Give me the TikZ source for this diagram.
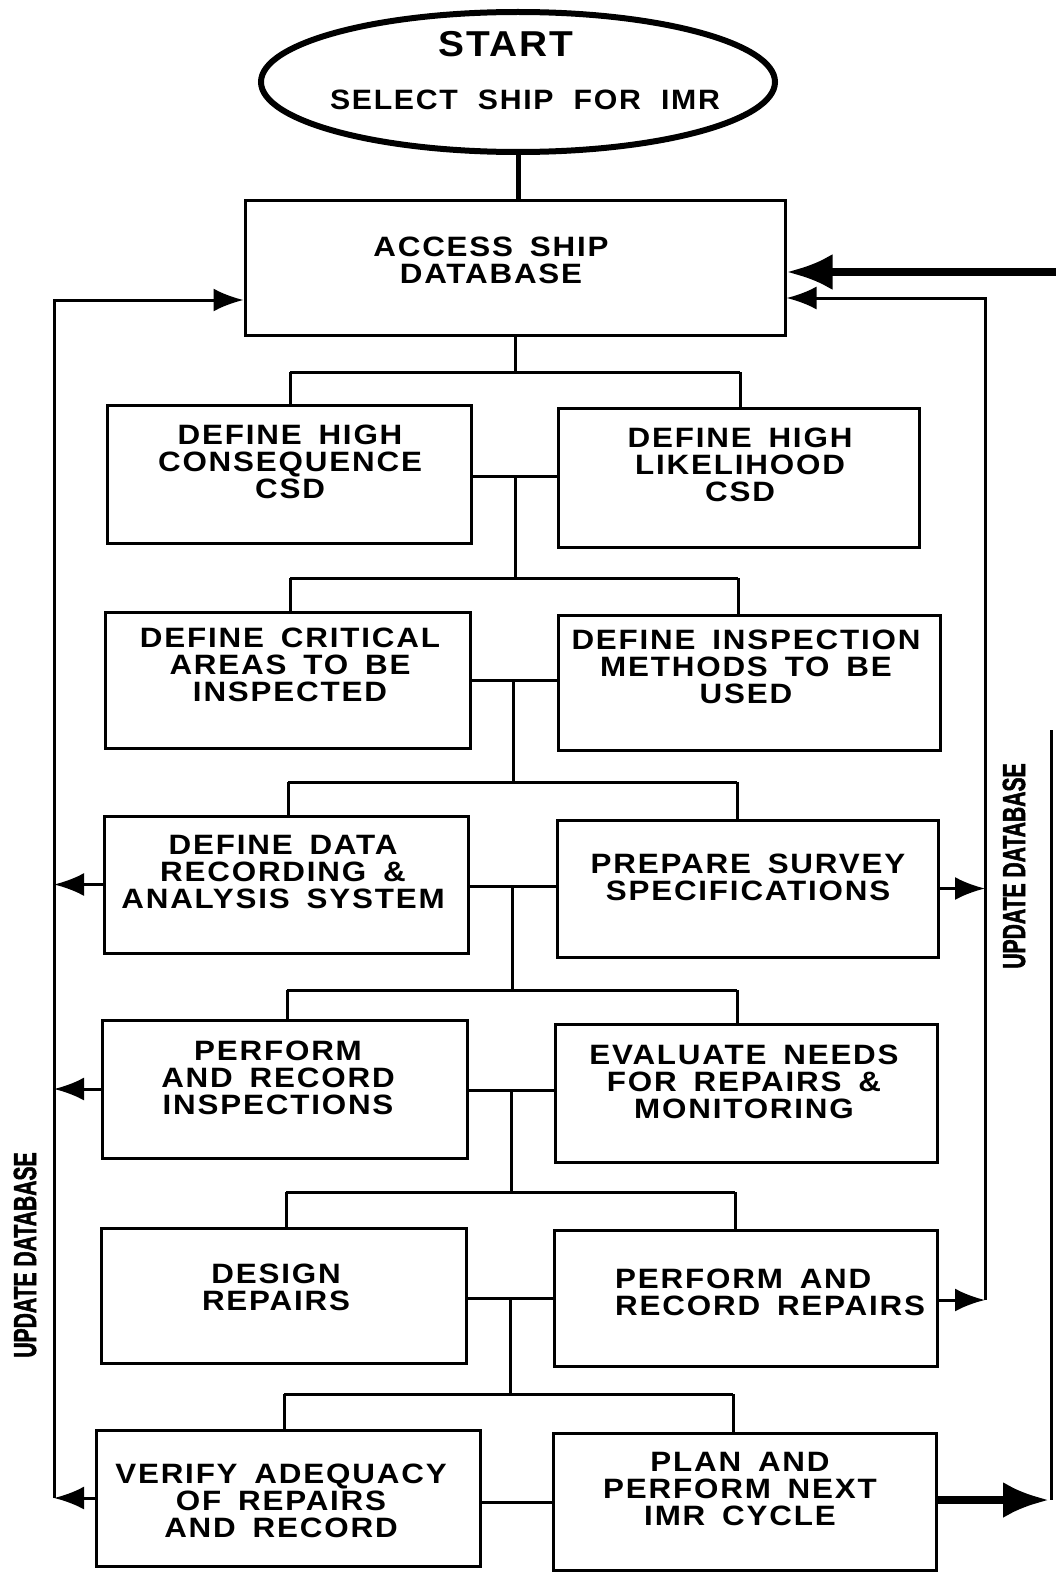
\documentclass[tikz,border=0pt]{standalone}
\usepackage{fontspec}
\usetikzlibrary{arrows.meta,shapes.geometric}
\newfontfamily\boxfont{Liberation Sans}[FakeStretch=1.12,LetterSpace=6.5,WordSpace=1.6]
\newfontfamily\ellfont{Liberation Sans}[FakeStretch=1.08,LetterSpace=6,WordSpace=2]
\newfontfamily\updfont{Liberation Sans}[FakeStretch=0.66,FakeBold=1.5]
\begin{document}
\begin{tikzpicture}[x=1pt,y=-1pt,
  bx/.style={draw, line width=3pt, inner sep=0pt, rectangle},
  ln/.style={line width=3pt},
  thk/.style={line width=8pt},
  tip/.style={-{Latex[length=30pt,width=23pt]}},
  bigtip/.style={-{Latex[length=46pt,width=36pt]}},
  txt/.style={inner sep=0pt, align=center, anchor=north, font=\boxfont\bfseries\fontsize{28}{27}\selectfont},
  etxt/.style={inner sep=0pt, anchor=base, font=\ellfont\bfseries},
  upd/.style={inner sep=0pt, rotate=90, font=\updfont\bfseries\fontsize{32}{32}\selectfont}]
\useasboundingbox (0,0) rectangle (1055,1576);
\fill[white] (0,0) rectangle (1055,1576);

% start ellipse
\node[draw, ellipse, line width=6pt, inner sep=0pt, minimum width=514pt, minimum height=140pt] (st) at (518,82) {};
\node[etxt, font=\ellfont\bfseries\fontsize{36}{36}\selectfont] (tstart) at (506,57) {START};
\node[etxt, font=\ellfont\bfseries\fontsize{28}{28}\selectfont] (tsel) at (525,110) {SELECT SHIP FOR IMR};

% boxes
\node[bx, minimum width=540pt, minimum height=135pt] (acc) at (515,267.5) {};
\node[bx, minimum width=364pt, minimum height=138pt] (b1L) at (289,474) {};
\node[bx, minimum width=361pt, minimum height=139pt] (b1R) at (738.5,477.5) {};
\node[bx, minimum width=365pt, minimum height=136pt] (b2L) at (287.5,680) {};
\node[bx, minimum width=382pt, minimum height=135pt] (b2R) at (749,682.5) {};
\node[bx, minimum width=364pt, minimum height=137pt] (b3L) at (286,884.5) {};
\node[bx, minimum width=381pt, minimum height=137pt] (b3R) at (747.5,888.5) {};
\node[bx, minimum width=365pt, minimum height=138pt] (b4L) at (284.5,1089) {};
\node[bx, minimum width=382pt, minimum height=138pt] (b4R) at (746,1093) {};
\node[bx, minimum width=365pt, minimum height=135pt] (b5L) at (283.5,1295.5) {};
\node[bx, minimum width=383pt, minimum height=136pt] (b5R) at (745.5,1298) {};
\node[bx, minimum width=384pt, minimum height=136pt] (b6L) at (288,1498) {};
\node[bx, minimum width=383pt, minimum height=137pt] (b6R) at (744.5,1501.5) {};

% texts
\node[txt] (tacc) at (491,237) {ACCESS SHIP\\DATABASE};
\node[txt] (t1L) at (290,425) {DEFINE HIGH\\CONSEQUENCE\\CSD};
\node[txt] (t1R) at (740,428) {DEFINE HIGH\\LIKELIHOOD\\CSD};
\node[txt] (t2L) at (290,628) {DEFINE CRITICAL\\AREAS TO BE\\INSPECTED};
\node[txt] (t2R) at (746,630) {DEFINE INSPECTION\\METHODS TO BE\\USED};
\node[txt] (t3L) at (283,835) {DEFINE DATA\\RECORDING \&\\ANALYSIS SYSTEM};
\node[txt] (t3R) at (748,854) {PREPARE SURVEY\\SPECIFICATIONS};
\node[txt] (t4L) at (278,1041) {PERFORM\\AND RECORD\\INSPECTIONS};
\node[txt] (t4R) at (744,1045) {EVALUATE NEEDS\\FOR REPAIRS \&\\MONITORING};
\node[txt] (t5L) at (276,1264) {DESIGN\\REPAIRS};
\node[txt, align=left, anchor=north west] (t5R) at (615,1269) {PERFORM AND\\RECORD REPAIRS};
\node[txt] (t6L) at (281,1464) {VERIFY ADEQUACY\\OF REPAIRS\\AND RECORD};
\node[txt] (t6R) at (740,1452) {PLAN AND\\PERFORM NEXT\\IMR CYCLE};

% side labels
\node[upd] (uL) at (25,1255) {UPDATE DATABASE};
\node[upd] (uR) at (1014,866) {UPDATE DATABASE};

% start to access
\draw[line width=5pt] (st.south) -- (st.south |- acc.north);

% tree connectors
\coordinate (h0) at (515,372); \coordinate (h0L) at (290,372); \coordinate (h0R) at (740,372);
\draw[ln] (acc.south) -- (h0);
\draw[ln] (h0L) -- (h0R);
\draw[ln] (h0L) -- (h0L |- b1L.north);
\draw[ln] (h0R) -- (h0R |- b1R.north);

\coordinate (m1) at (515,476); \coordinate (h1) at (515,578);
\coordinate (h1L) at (290,578); \coordinate (h1R) at (738,578);
\draw[ln] (b1L.east |- m1) -- (b1R.west |- m1);
\draw[ln] (m1) -- (h1);
\draw[ln] (h1L) -- (h1R);
\draw[ln] (h1L) -- (h1L |- b2L.north);
\draw[ln] (h1R) -- (h1R |- b2R.north);

\coordinate (m2) at (513,680); \coordinate (h2) at (513,782);
\coordinate (h2L) at (288,782); \coordinate (h2R) at (737,782);
\draw[ln] (b2L.east |- m2) -- (b2R.west |- m2);
\draw[ln] (m2) -- (h2);
\draw[ln] (h2L) -- (h2R);
\draw[ln] (h2L) -- (h2L |- b3L.north);
\draw[ln] (h2R) -- (h2R |- b3R.north);

\coordinate (m3) at (512,886); \coordinate (h3) at (512,990);
\coordinate (h3L) at (287,990); \coordinate (h3R) at (737,990);
\draw[ln] (b3L.east |- m3) -- (b3R.west |- m3);
\draw[ln] (m3) -- (h3);
\draw[ln] (h3L) -- (h3R);
\draw[ln] (h3L) -- (h3L |- b4L.north);
\draw[ln] (h3R) -- (h3R |- b4R.north);

\coordinate (m4) at (511,1090); \coordinate (h4) at (511,1192);
\coordinate (h4L) at (286,1192); \coordinate (h4R) at (735,1192);
\draw[ln] (b4L.east |- m4) -- (b4R.west |- m4);
\draw[ln] (m4) -- (h4);
\draw[ln] (h4L) -- (h4R);
\draw[ln] (h4L) -- (h4L |- b5L.north);
\draw[ln] (h4R) -- (h4R |- b5R.north);

\coordinate (m5) at (510,1298); \coordinate (h5) at (510,1394);
\coordinate (h5L) at (284,1394); \coordinate (h5R) at (733,1394);
\draw[ln] (b5L.east |- m5) -- (b5R.west |- m5);
\draw[ln] (m5) -- (h5);
\draw[ln] (h5L) -- (h5R);
\draw[ln] (h5L) -- (h5L |- b6L.north);
\draw[ln] (h5R) -- (h5R |- b6R.north);

\coordinate (m6) at (510,1502);
\draw[ln] (b6L.east |- m6) -- (b6R.west |- m6);

% left update line
\coordinate (Ltop) at (54,300); \coordinate (Lbot) at (54,1498);
\draw[ln, tip] (Lbot) -- (Ltop) -- (Ltop -| acc.west);
\draw[ln, tip] (b3L.west) -- (b3L.west -| Ltop);
\draw[ln, tip] (b4L.west) -- (b4L.west -| Ltop);
\draw[ln, tip] (b6L.west) -- (b6L.west -| Ltop);

% right update line
\coordinate (Rtop) at (985,298); \coordinate (Rbot) at (985,1300);
\draw[ln, tip] (Rbot) -- (Rtop) -- (Rtop -| acc.east);
\draw[ln, tip] (b3R.east) -- (b3R.east -| Rtop);
\draw[ln, tip] (b5R.east |- Rbot) -- (Rbot);

% next cycle loop
\coordinate (Tin) at (1060,272);
\draw[thk, bigtip] (Tin) -- (Tin -| acc.east);
\coordinate (Bout) at (1049,1500); \coordinate (Rr) at (1051,730);
\draw[ln] (Rr) -- (Rr |- Bout);
\draw[thk, bigtip] (b6R.east |- Bout) -- (Bout);
\end{tikzpicture}
\end{document}
